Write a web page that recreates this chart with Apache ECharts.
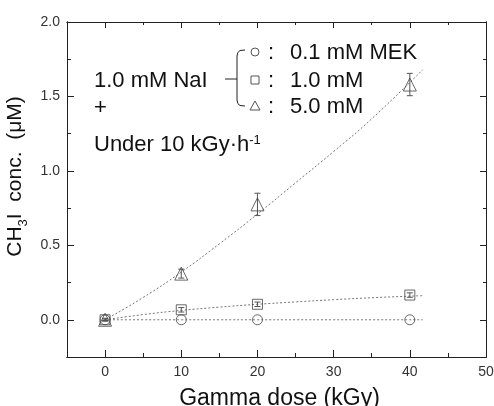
<!DOCTYPE html>
<html>
<head>
<meta charset="utf-8">
<script src="https://cdn.jsdelivr.net/npm/echarts@6/dist/echarts.min.js"></script>
<style>
  html, body { margin: 0; padding: 0; background: #fff; }
  #chart { width: 494px; height: 406px; }
</style>
</head>
<body>
<div id="chart"></div>
<script>
var dose = [0, 10, 20, 40];
var mek01 = [0, 0, 0, 0];
var mek10 = [0, 0.067, 0.104, 0.166];
var mek10Err = [0.005, 0.015, 0.015, 0.015];
var mek50 = [0, 0.31, 0.775, 1.58];
var mek50Err = [0.01, 0.03, 0.075, 0.075];

// dotted fit curves
var fitX = [0, 5, 10, 15, 20, 25, 30, 35, 41.7];
var fit01 = [0, 0, 0, 0, 0, 0, 0, 0, 0];
var fit10 = [0, 0.035, 0.063, 0.085, 0.104, 0.12, 0.135, 0.148, 0.162];
var fit50 = [0, 0.15, 0.32, 0.51, 0.71, 0.92, 1.13, 1.35, 1.68];

// ticks
var xMajor = [0, 10, 20, 30, 40, 50];
var xMinor = [5, 15, 25, 35, 45];
var yMajor = [0, 0.5, 1.0, 1.5, 2.0];
var yMinor = [0.25, 0.75, 1.25, 1.75];

var ink = '#222';
var markColor = '#444';
var fontFam = '"Liberation Sans", Arial, sans-serif';

function pairs(xs, ys) {
  var out = [];
  for (var i = 0; i < xs.length; i++) out.push([xs[i], ys[i]]);
  return out;
}
function errData(xs, ys, es) {
  var out = [];
  for (var i = 0; i < xs.length; i++) out.push([xs[i], ys[i] - es[i], ys[i] + es[i]]);
  return out;
}

function errRender(params, api) {
  var x = api.value(0);
  var lo = api.coord([x, api.value(1)]);
  var hi = api.coord([x, api.value(2)]);
  var w = 3;
  var st = { stroke: '#555', lineWidth: 1 };
  return {
    type: 'group',
    children: [
      { type: 'line', shape: { x1: lo[0], y1: lo[1], x2: hi[0], y2: hi[1] }, style: st },
      { type: 'line', shape: { x1: lo[0] - w, y1: lo[1], x2: lo[0] + w, y2: lo[1] }, style: st },
      { type: 'line', shape: { x1: hi[0] - w, y1: hi[1], x2: hi[0] + w, y2: hi[1] }, style: st }
    ]
  };
}

function xAx(pos, ticks, len, labels, extra) {
  var a = {
    type: 'value', min: -5, max: 50, position: pos,
    axisLine: { show: true, onZero: false, lineStyle: { color: ink, width: 1 } },
    axisTick: { show: true, inside: true, length: len, customValues: ticks, lineStyle: { color: ink } },
    axisLabel: labels ? { show: true, customValues: xMajor, fontSize: 14, color: '#333', margin: 8, fontFamily: fontFam } : { show: false },
    splitLine: { show: false }
  };
  if (extra) for (var k in extra) a[k] = extra[k];
  return a;
}
function yAx(pos, ticks, len, labels, extra) {
  var a = {
    type: 'value', min: -0.25, max: 2.0, position: pos,
    axisLine: { show: true, onZero: false, lineStyle: { color: ink, width: 1 } },
    axisTick: { show: true, inside: true, length: len, customValues: ticks, lineStyle: { color: ink } },
    axisLabel: labels ? { show: true, customValues: yMajor, fontSize: 14, color: '#333', margin: 7, fontFamily: fontFam,
      formatter: function (v) { return v.toFixed(1); } } : { show: false },
    splitLine: { show: false }
  };
  if (extra) for (var k in extra) a[k] = extra[k];
  return a;
}

var chart = echarts.init(document.getElementById('chart'));

var dotted = { color: '#777', width: 1, type: [2, 2] };
var txt = function (s, l, t) {
  return { type: 'text', left: l, top: t, style: { text: s, fontSize: 22, fill: '#111', fontFamily: fontFam } };
};

chart.setOption({
  animation: false,
  backgroundColor: '#fff',
  grid: { left: 67, right: 8, top: 22, bottom: 49, containLabel: false, outerBoundsMode: 'none' },
  xAxis: [
    xAx('bottom', xMajor, 7, true, {
      name: 'Gamma dose (kGy)', nameLocation: 'middle', nameGap: 30,
      nameTextStyle: { fontSize: 23, color: '#111', fontFamily: fontFam, padding: [0, 0, 0, 6] }
    }),
    xAx('bottom', xMinor, 4, false),
    xAx('top', xMajor, 6, false),
    xAx('top', xMinor, 3, false)
  ],
  yAxis: [
    yAx('left', yMajor, 7, true, {
      name: '{a|CH}{s|3}{a|I  conc.  (μM)}', nameLocation: 'middle', nameGap: 37, nameRotate: 90,
      nameTextStyle: {
        fontFamily: fontFam, color: '#111', padding: [0, 0, 0, 26],
        rich: {
          a: { fontSize: 21, color: '#111', fontFamily: fontFam, lineHeight: 24 },
          s: { fontSize: 13, color: '#111', fontFamily: fontFam, lineHeight: 24, verticalAlign: 'bottom', padding: [0, 0, -2, 0] }
        }
      }
    }),
    yAx('left', yMinor, 4, false),
    yAx('right', yMajor, 6, false),
    yAx('right', yMinor, 3, false)
  ],
  series: [
    { type: 'line', data: pairs(fitX, fit01), smooth: true, symbol: 'none', lineStyle: dotted, z: 1 },
    { type: 'line', data: pairs(fitX, fit10), smooth: true, symbol: 'none', lineStyle: dotted, z: 1 },
    { type: 'line', data: pairs(fitX, fit50), smooth: true, symbol: 'none', lineStyle: dotted, z: 1 },
    { type: 'custom', data: errData(dose, mek10, mek10Err), renderItem: errRender, z: 2 },
    { type: 'custom', data: errData(dose, mek50, mek50Err), renderItem: errRender, z: 2 },
    { type: 'scatter', data: pairs(dose, mek01), symbol: 'circle', symbolSize: 10,
      itemStyle: { color: 'none', borderColor: markColor, borderWidth: 1 }, z: 3 },
    { type: 'scatter', data: pairs(dose, mek10), symbol: 'rect', symbolSize: 10,
      itemStyle: { color: 'none', borderColor: markColor, borderWidth: 1 }, z: 3 },
    { type: 'scatter', data: pairs(dose, mek50), symbol: 'triangle', symbolSize: 13,
      itemStyle: { color: 'none', borderColor: markColor, borderWidth: 1 }, z: 3 }
  ],
  graphic: [
    txt('1.0 mM NaI', 94, 70),
    txt('+', 94, 97),
    { type: 'text', left: 94, top: 132, style: {
        text: '{a|Under 10 kGy·h}{b|-1}', fontFamily: fontFam,
        rich: {
          a: { fontSize: 22, fill: '#111', fontFamily: fontFam, lineHeight: 26 },
          b: { fontSize: 13, fill: '#111', fontFamily: fontFam, lineHeight: 26, verticalAlign: 'top', padding: [2, 0, 0, 0] }
        }
      } },
    { type: 'polyline', shape: { points: [[245, 50], [240, 50.5], [237.8, 52.5], [237, 56], [237, 100], [237.8, 103.5], [240, 105.5], [245, 106]] },
      style: { stroke: '#222', lineWidth: 1, fill: null } },
    { type: 'line', shape: { x1: 225, y1: 79, x2: 237, y2: 79 }, style: { stroke: '#222', lineWidth: 1 } },
    { type: 'circle', shape: { cx: 255, cy: 52, r: 4 }, style: { stroke: '#555', lineWidth: 1, fill: null } },
    { type: 'rect', shape: { x: 251, y: 76, width: 8, height: 8 }, style: { stroke: '#555', lineWidth: 1, fill: null } },
    { type: 'polygon', shape: { points: [[255, 101], [250, 110], [260, 110]] }, style: { stroke: '#555', lineWidth: 1, fill: null } },
    txt(':', 268, 42),
    txt(':', 268, 70),
    txt(':', 268, 96),
    txt('0.1 mM MEK', 290, 42),
    txt('1.0 mM', 290, 70),
    txt('5.0 mM', 290, 96)
  ]
});
</script>
</body>
</html>
